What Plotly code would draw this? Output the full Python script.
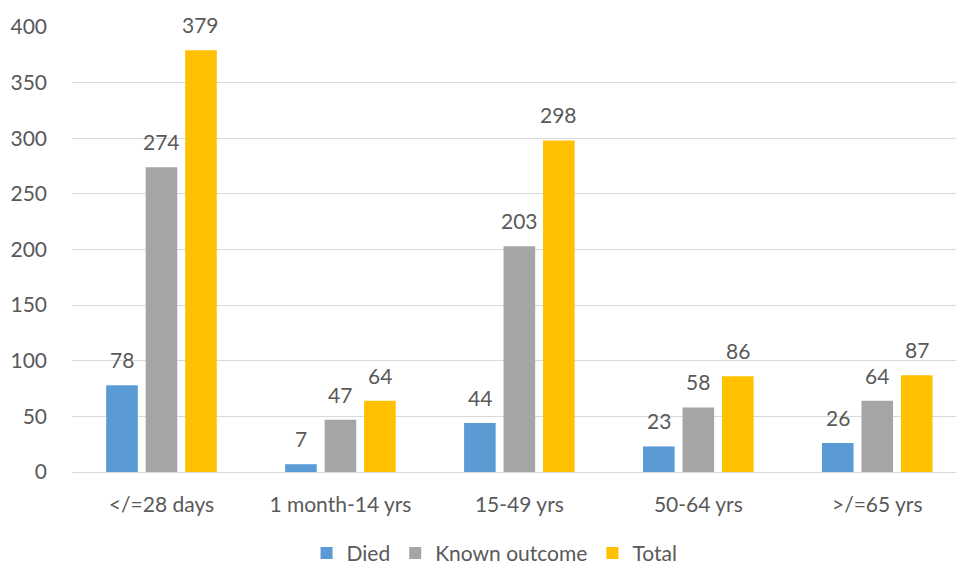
import plotly.graph_objects as go

categories = ["</=28 days", "1 month-14 yrs", "15-49 yrs", "50-64 yrs", ">/=65 yrs"]
died = [78, 7, 44, 23, 26]
known = [274, 47, 203, 58, 64]
total = [379, 64, 298, 86, 87]
series = [("Died", died, "#5B9BD5"), ("Known outcome", known, "#A5A5A5"), ("Total", total, "#FFC000")]

FONT = "Lato"
TXT = "#595959"
FS = 21
bargap = 0.338
bargroupgap = 0.2

fig = go.Figure()
for name, vals, col in series:
    fig.add_trace(go.Bar(x=list(range(len(categories))), y=vals, name=name,
                         marker=dict(color=col, line=dict(width=0))))

slot = (1 - bargap) / len(series)
anns = []
for k, (name, vals, col) in enumerate(series):
    off = (k - (len(series) - 1) / 2) * slot
    for i, v in enumerate(vals):
        anns.append(dict(x=i + off, y=v, text=str(v), showarrow=False, xref="x", yref="y",
                         yanchor="bottom", yshift=11, font=dict(family=FONT, size=FS, color=TXT)))

fig.update_layout(
    width=956, height=569,
    margin=dict(l=72, r=0, t=27, b=97, autoexpand=False),
    paper_bgcolor="white", plot_bgcolor="white",
    barmode="group", bargap=bargap, bargroupgap=bargroupgap,
    font=dict(family=FONT, size=FS, color=TXT),
    annotations=anns,
    showlegend=True,
    legend=dict(orientation="h", x=0.478, xanchor="center", y=-0.183, yanchor="middle",
                font=dict(family=FONT, size=FS, color=TXT), itemwidth=30,
                traceorder="normal"),
    xaxis=dict(range=[-0.5, 4.44], tickmode="array", tickvals=list(range(len(categories))),
               ticktext=categories, showgrid=False, zeroline=False, showline=False,
               automargin=False,
               ticks="", ticklabelstandoff=18, tickfont=dict(family=FONT, size=FS, color=TXT)),
    yaxis=dict(range=[0, 400], dtick=50, showgrid=True, gridcolor="#D9D9D9", gridwidth=1,
               zeroline=True, zerolinecolor="#D9D9D9", zerolinewidth=1, showline=False,
               automargin=False,
               ticks="", ticklabelstandoff=24, tickfont=dict(family=FONT, size=FS, color=TXT)),
)

fig.write_html("out.html")
